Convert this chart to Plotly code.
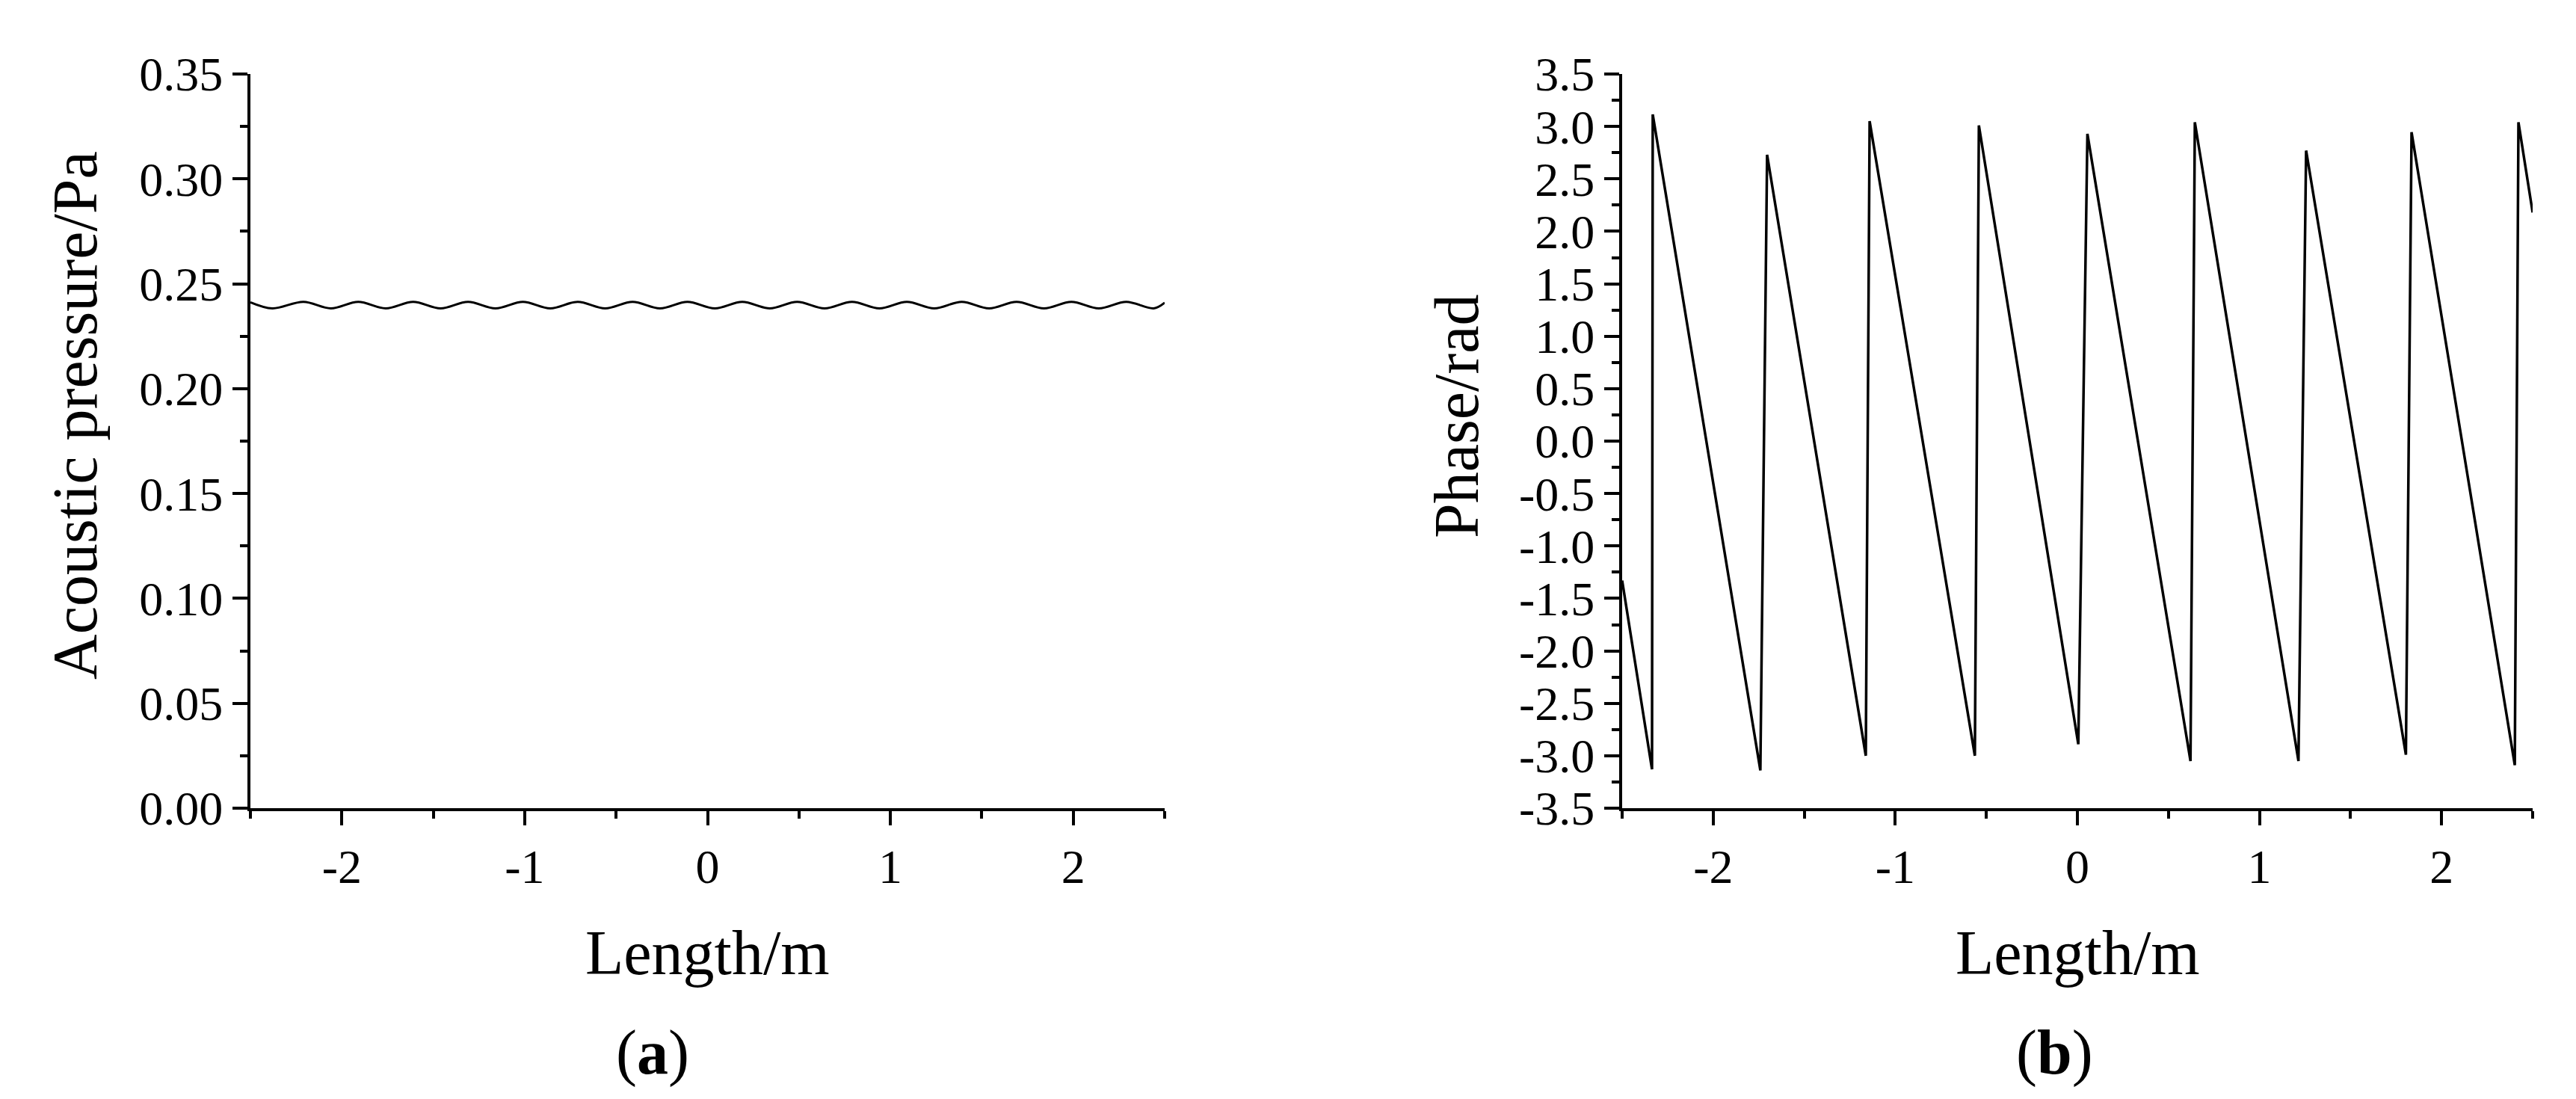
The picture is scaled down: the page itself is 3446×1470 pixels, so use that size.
import plotly.graph_objects as go

# (a) acoustic pressure along the duct: ripple extremes
pressure_x = [-2.50, -2.38, -2.21, -2.06, -1.91, -1.76, -1.61, -1.46, -1.31, -1.16, -1.01, -0.86,
              -0.71, -0.56, -0.41, -0.26, -0.11, 0.04, 0.19, 0.34, 0.49, 0.64, 0.79, 0.94,
              1.09, 1.24, 1.39, 1.54, 1.69, 1.84, 1.99, 2.14, 2.29, 2.44, 2.50]
pressure_y = [0.2412, 0.2383, 0.2414, 0.2383, 0.2414, 0.2383, 0.2414, 0.2383, 0.2414, 0.2383, 0.2414, 0.2383,
              0.2414, 0.2383, 0.2414, 0.2383, 0.2414, 0.2383, 0.2414, 0.2383, 0.2414, 0.2383, 0.2414, 0.2383,
              0.2414, 0.2383, 0.2414, 0.2383, 0.2414, 0.2383, 0.2414, 0.2383, 0.2414, 0.2383, 0.2410]

# (b) phase: sawtooth corners
phase_x = [-2.50, -2.336, -2.332, -1.741, -1.704, -1.162, -1.141, -0.563, -0.541, 0.005, 0.055,
           0.621, 0.645, 1.214, 1.256, 1.804, 1.835, 2.402, 2.422, 2.50]
phase_y = [-1.33, -3.13, 3.115, -3.14, 2.73, -3.00, 3.05, -3.00, 3.01, -2.89, 2.93,
           -3.05, 3.04, -3.05, 2.77, -2.99, 2.945, -3.09, 3.04, 2.18]

x_ticks = [-2, -1, 0, 1, 2]
x_labels = ["-2", "-1", "0", "1", "2"]
p_ticks = [0.0, 0.05, 0.10, 0.15, 0.20, 0.25, 0.30, 0.35]
p_labels = ["0.00", "0.05", "0.10", "0.15", "0.20", "0.25", "0.30", "0.35"]
ph_ticks = [-3.5, -3.0, -2.5, -2.0, -1.5, -1.0, -0.5, 0.0, 0.5, 1.0, 1.5, 2.0, 2.5, 3.0, 3.5]
ph_labels = ["-3.5", "-3.0", "-2.5", "-2.0", "-1.5", "-1.0", "-0.5", "0.0",
             "0.5", "1.0", "1.5", "2.0", "2.5", "3.0", "3.5"]

W, H = 3446, 1470
FONT = "Liberation Serif"

fig = go.Figure()
fig.add_trace(go.Scatter(x=pressure_x, y=pressure_y, mode="lines", xaxis="x", yaxis="y",
                         line=dict(color="black", width=3, shape="spline", smoothing=1.0)))
fig.add_trace(go.Scatter(x=phase_x, y=phase_y, mode="lines", xaxis="x2", yaxis="y2",
                         line=dict(color="black", width=3.5)))

axis_common = dict(showline=True, linecolor="black", linewidth=4, ticks="outside", tickwidth=4,
                   tickcolor="black", showgrid=False, zeroline=False, mirror=False,
                   automargin=False,
                   tickfont=dict(family=FONT, size=64, color="black"))
top = 1 - 91 / H
bottom = 1 - 1073 / H

fig.update_layout(
    template="none",
    width=W, height=H, margin=dict(l=0, r=0, t=0, b=0, pad=0, autoexpand=False),
    paper_bgcolor="white", plot_bgcolor="white", showlegend=False,
    xaxis=dict(domain=[327 / W, 1550 / W], range=[-2.5, 2.5], anchor="y",
               tickvals=x_ticks, ticktext=x_labels, ticklen=19,
               minor=dict(tickvals=[-2.5, -1.5, -0.5, 0.5, 1.5, 2.5], ticklen=10, tickwidth=4,
                          tickcolor="black", ticks="outside"),
               **axis_common),
    yaxis=dict(domain=[bottom, top], range=[0, 0.35], anchor="x",
               tickvals=p_ticks, ticktext=p_labels, ticklen=20,
               minor=dict(dtick=0.025, tick0=0, ticklen=10, tickwidth=4,
                          tickcolor="black", ticks="outside"),
               **axis_common),
    xaxis2=dict(domain=[2162 / W, 3380 / W], range=[-2.5, 2.5], anchor="y2",
                tickvals=x_ticks, ticktext=x_labels, ticklen=19,
                minor=dict(tickvals=[-2.5, -1.5, -0.5, 0.5, 1.5, 2.5], ticklen=10, tickwidth=4,
                           tickcolor="black", ticks="outside"),
                **axis_common),
    yaxis2=dict(domain=[bottom, top], range=[-3.5, 3.5], anchor="x2",
                tickvals=ph_ticks, ticktext=ph_labels, ticklen=20,
                minor=dict(dtick=0.25, tick0=0, ticklen=10, tickwidth=4,
                           tickcolor="black", ticks="outside"),
                **axis_common),
)

title_font = dict(family=FONT, size=84, color="black")
texts = [
    ("Length/m", 938, 1266, 0),
    ("Length/m", 2771, 1266, 0),
    ("Acoustic pressure/Pa", 92, 548, -90),
    ("Phase/rad", 1940, 548, -90),
    ("(<b>a</b>)", 865, 1400, 0),
    ("(<b>b</b>)", 2740, 1400, 0),
]
for txt, px_, py_, ang in texts:
    fig.add_annotation(text=txt, x=px_ / W, y=1 - py_ / H, xref="paper", yref="paper",
                       showarrow=False, textangle=ang, font=title_font,
                       xanchor="center", yanchor="middle")

fig.write_html("out.html")
